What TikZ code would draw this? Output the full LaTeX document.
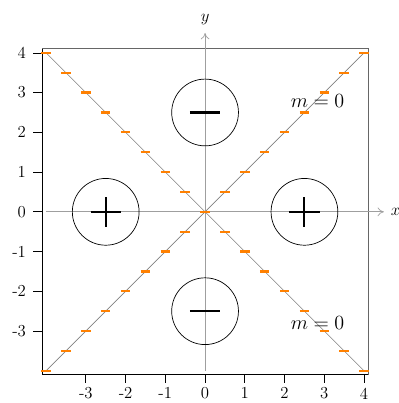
\documentclass[tikz,border=0pt]{standalone}
\usepackage{amsmath,amssymb}
\usepackage{tikz}
\usetikzlibrary{arrows.meta,positioning,calc}

\begin{document}
\begin{tikzpicture}[every node/.style={font=\large},
    axisline/.style={gray!75, line width=0.5pt, -{To[length=1.6mm,width=2.2mm]}},
    diag/.style={gray, line width=0.5pt},
    slope/.style={orange, line width=1.6pt},
    frameA/.style={line width=0.7pt, black},
    frameB/.style={line width=0.7pt, black!60},
    tickmark/.style={line width=0.5pt, black},
    ticklbl/.style={inner sep=0pt},
    charge/.style={circle, draw, line width=0.5pt, minimum size=1.68cm, inner sep=0pt},
    sign/.style={line width=1.5pt, black},
    mlabel/.style={font=\Large}
  ]
    \useasboundingbox (-5.16,-4.81) rectangle (4.875,5.33);

    % Rahmen
    \coordinate (bl) at (-4.1,-4.1);
    \coordinate (br) at (4.1,-4.1);
    \coordinate (tl) at (-4.1,4.1);
    \coordinate (tr) at (4.1,4.1);
    \draw[frameB] (tl) -- (tr) -- (br);
    \draw[frameA] (tl) -- (bl) -- (br);

    % Achsen
    \coordinate (xs) at (-4,0);
    \coordinate (xe) at (4.5,0);
    \coordinate (ys) at (0,-4);
    \coordinate (ye) at (0,4.5);
    \draw[axisline] (xs) -- (xe);
    \draw[axisline] (ys) -- (ye);
    \node[ticklbl, right=0.17 of xe] (xlab) {$x$};
    \node[ticklbl, above=0.2 of ye] (ylab) {$y$};

    % Diagonalen
    \coordinate (d1) at (-4,-4);
    \coordinate (d2) at (4,4);
    \coordinate (d3) at (-4,4);
    \coordinate (d4) at (4,-4);
    \draw[diag] (d1) -- (d2);
    \draw[diag] (d3) -- (d4);

    % Ticks
    \foreach \v in {-3,...,4} {
      \draw[tickmark] (\v,-4.1) -- ++(0,-0.2);
      \node[ticklbl, anchor=north] (xt\v) at (\v,-4.42) {\v};
      \draw[tickmark] (-4.1,\v) -- ++(-0.24,0);
      \node[ticklbl, anchor=east] (yt\v) at (-4.5,\v) {\v};
    }

    % Richtungsfeld
    \foreach \t in {-4,-3.5,...,4} {
      \draw[slope] ({\t-0.12},{\t}) -- ({\t+0.12},{\t});
      \draw[slope] ({\t-0.12},{0-(\t)}) -- ({\t+0.12},{0-(\t)});
    }

    % Ladungen
    \node[charge] (cL) at (-2.5,0) {};
    \node[charge] (cR) at (2.5,0) {};
    \node[charge] (cT) at (0,2.5) {};
    \node[charge] (cB) at (0,-2.5) {};
    \draw[sign] (cL) ++(-0.38,0) -- ++(0.76,0);
    \draw[sign] (cL) ++(0,-0.38) -- ++(0,0.76);
    \draw[sign] (cR) ++(-0.38,0) -- ++(0.76,0);
    \draw[sign] (cR) ++(0,-0.38) -- ++(0,0.76);
    \draw[sign] (cT) ++(-0.38,0) -- ++(0.76,0);
    \draw[sign] (cB) ++(-0.38,0) -- ++(0.76,0);

    % Beschriftung
    \node[mlabel] (m1) at (2.83,2.78) {$m = 0$};
    \node[mlabel] (m2) at (2.83,-2.8) {$m = 0$};
  \end{tikzpicture}
\end{document}
